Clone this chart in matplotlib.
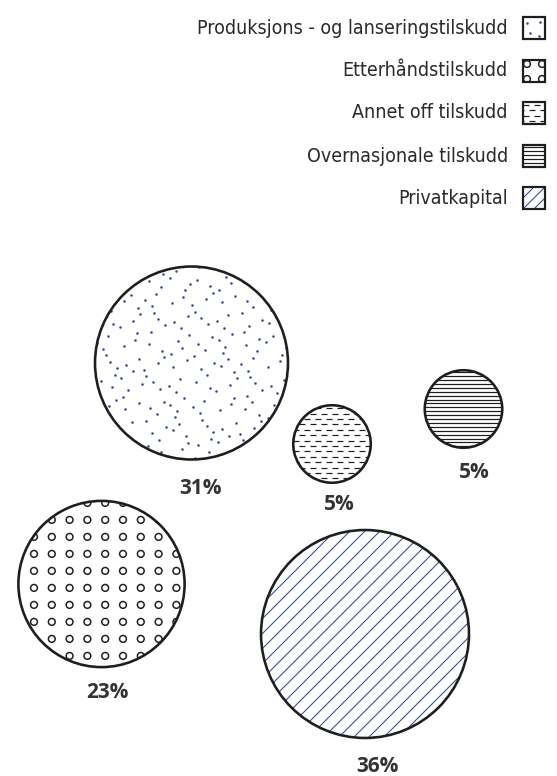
import numpy as np
import matplotlib.pyplot as plt
from matplotlib.patches import Circle, Rectangle
from matplotlib.collections import LineCollection

# finansieringskilder, andel i prosent
labels = ["Produksjons - og lanseringstilskudd", "Etterhåndstilskudd",
          "Annet off tilskudd", "Overnasjonale tilskudd", "Privatkapital"]
shares = [31, 23, 5, 5, 36]
patterns = ["dots", "rings", "dashes", "hlines", "diag"]

# plassering av boblene (piksler) og prosenttekstene
centers = [(191.5, 363), (101.5, 584), (332, 444), (463.5, 409), (365, 634)]
label_pos = [(200, 488), (107, 693), (339, 504), (474, 472), (377, 767)]
legend_y = [28, 71, 113, 156, 198]

W, H = 557, 776
R_PER_SQRT = 17.33        # radius i px per sqrt(prosent), areal ~ andel
PX = 0.72                 # 1 px i punkter ved dpi 100
BLUE = "#2b428c"
INK = "#1e1e1e"


def halton(i, b):
    f, r = 1.0, 0.0
    while i > 0:
        f /= b
        r += f * (i % b)
        i //= b
    return r


def add_pattern(ax, patch, kind, x0, y0, x1, y1, small=False):
    w, h = x1 - x0, y1 - y0
    arts = []
    if kind == "dots":
        if small:
            pts = np.array([[x0 + 4, y0 + 6], [x0 + 17, y0 + 5], [x0 + 7, y0 + 16], [x0 + 16, y0 + 19]])
        else:
            n = int(w * h / 165)
            pts = np.array([[x0 + halton(i + 11, 2) * w, y0 + halton(i + 11, 3) * h] for i in range(n)])
        arts.append(ax.scatter(pts[:, 0], pts[:, 1], s=3.2, c=BLUE, lw=0, zorder=2))
    elif kind == "rings":
        if small:
            sx, sy, ox, oy = 15, 15, 4, 4
        else:
            sx, sy, ox, oy = 17.8, 17.0, 15.6, 2.0
        xs = np.arange(x0 + ox, x1 + sx, sx)
        ys = np.arange(y0 + oy, y1 + sy, sy)
        gx, gy = np.meshgrid(xs, ys)
        arts.append(ax.scatter(gx.ravel(), gy.ravel(), s=24, marker="o", facecolors="none",
                               edgecolors=INK, linewidths=1.5 * PX, zorder=2))
    elif kind == "dashes":
        segs = []
        step_y, period, dash = 5.4, 11.0, 6.0
        for k, y in enumerate(np.arange(y0 + 3, y1, step_y)):
            start = x0 - period + (period / 2 if k % 2 else 0)
            for x in np.arange(start, x1 + period, period):
                segs.append([(x, y), (x + dash, y)])
        arts.append(LineCollection(segs, colors=INK, linewidths=1.2 * PX, zorder=2))
    elif kind == "hlines":
        segs = [[(x0 - 2, y), (x1 + 2, y)] for y in np.arange(y0 + 2, y1, 3.9)]
        arts.append(LineCollection(segs, colors=INK, linewidths=1.2 * PX, zorder=2))
    elif kind == "diag":
        step = 15.0 if not small else 11.0
        segs = []
        for x in np.arange(x0 - h - step, x1 + step, step):
            segs.append([(x, y1), (x + h, y0)])
        arts.append(LineCollection(segs, colors=BLUE, linewidths=1.0 * PX, zorder=2))
    for a in arts:
        if isinstance(a, LineCollection):
            ax.add_collection(a)
        a.set_clip_path(patch)


fig = plt.figure(figsize=(W / 100, H / 100), dpi=100)
ax = fig.add_axes([0, 0, 1, 1])
ax.set_xlim(0, W)
ax.set_ylim(H, 0)
ax.set_aspect("equal")
ax.axis("off")

# bobler
for share, kind, (cx, cy), (lx, ly) in zip(shares, patterns, centers, label_pos):
    r = R_PER_SQRT * np.sqrt(share)
    clip = Circle((cx, cy), r, transform=ax.transData)
    add_pattern(ax, clip, kind, cx - r, cy - r, cx + r, cy + r)
    ax.add_patch(Circle((cx, cy), r, facecolor="none", edgecolor=INK, lw=2.6 * PX, zorder=3))
    ax.text(lx, ly, f"{share}%", ha="center", va="center", fontsize=15,
            fontweight="bold", family=["Open Sans", "DejaVu Sans"], color="#333333")

# tegnforklaring
bx, bs = 523, 22
for lab, kind, y in zip(labels, patterns, legend_y):
    ax.text(bx - 15, y, lab, ha="right", va="center", fontsize=14, fontstretch="condensed",
            family=["DejaVu Sans"], color="#2a2a2a")
    clip = Rectangle((bx, y - bs / 2), bs, bs, transform=ax.transData)
    add_pattern(ax, clip, kind, bx, y - bs / 2, bx + bs, y + bs / 2, small=True)
    ax.add_patch(Rectangle((bx, y - bs / 2), bs, bs, facecolor="none", edgecolor=INK,
                           lw=2.2 * PX, zorder=3))

fig.savefig("out.png", dpi=100)
